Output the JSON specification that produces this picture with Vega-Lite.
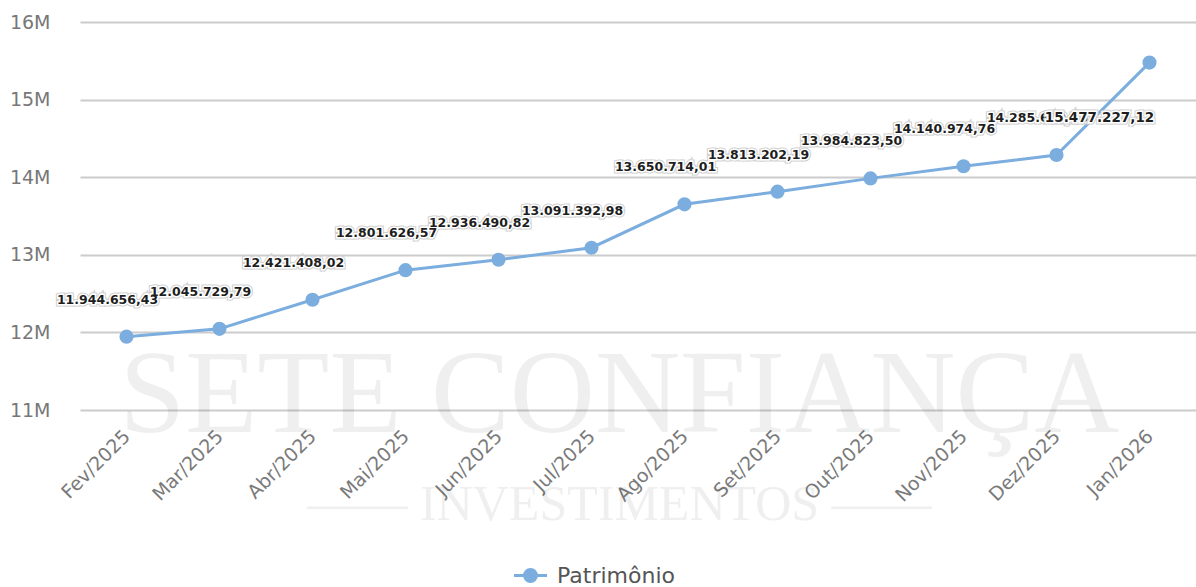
{
  "$schema": "https://vega.github.io/schema/vega-lite/v6.json",
  "width": 1116,
  "height": 388,
  "autosize": {"type": "none"},
  "padding": {"left": 80, "top": 22, "right": 0, "bottom": 177},
  "config": {
    "locale": {"number": {"decimal": ",", "thousands": ".", "grouping": [3], "currency": ["R$ ", ""]}},
    "view": {"stroke": null},
    "font": "DejaVu Sans"
  },
  "data": {
    "values": [
      {"mes": "Fev/2025", "patrimonio": 11944656.43},
      {"mes": "Mar/2025", "patrimonio": 12045729.79},
      {"mes": "Abr/2025", "patrimonio": 12421408.02},
      {"mes": "Mai/2025", "patrimonio": 12801626.57},
      {"mes": "Jun/2025", "patrimonio": 12936490.82},
      {"mes": "Jul/2025", "patrimonio": 13091392.98},
      {"mes": "Ago/2025", "patrimonio": 13650714.01},
      {"mes": "Set/2025", "patrimonio": 13813202.19},
      {"mes": "Out/2025", "patrimonio": 13984823.50},
      {"mes": "Nov/2025", "patrimonio": 14140974.76},
      {"mes": "Dez/2025", "patrimonio": 14285640.35},
      {"mes": "Jan/2026", "patrimonio": 15477227.12}
    ]
  },
  "layer": [
    {
      "data": {"values": [{"t": "SETE CONFIANÇA"}]},
      "mark": {"type": "text", "font": "Liberation Serif", "fontSize": 118, "color": "#000000", "opacity": 0.06, "baseline": "middle", "align": "center", "dx": 28},
      "encoding": {
        "x": {
          "datum": "Jul/2025", "type": "ordinal",
          "scale": {"type": "point", "padding": 0.5, "domain": ["Fev/2025", "Mar/2025", "Abr/2025", "Mai/2025", "Jun/2025", "Jul/2025", "Ago/2025", "Set/2025", "Out/2025", "Nov/2025", "Dez/2025", "Jan/2026"]},
          "axis": {"title": null, "domain": false, "ticks": false, "grid": false, "labelAngle": -45, "labelAlign": "right", "labelBaseline": "middle", "labelFontSize": 19, "labelColor": "#7a7a7a", "labelPadding": 23}
        },
        "y": {
          "datum": 11170000, "type": "quantitative",
          "scale": {"domain": [11000000, 16000000], "nice": false, "zero": false},
          "axis": {"title": null, "domain": false, "ticks": false, "grid": true, "values": [11000000, 12000000, 13000000, 14000000, 15000000, 16000000], "format": "~s", "labelFontSize": 19, "labelColor": "#777777", "labelPadding": 30, "gridColor": "#cccccc", "gridWidth": 2}
        },
        "text": {"field": "t"}
      }
    },
    {
      "data": {"values": [{"t": "——   INVESTIMENTOS   ——"}]},
      "mark": {"type": "text", "font": "Liberation Serif", "fontSize": 50, "color": "#000000", "opacity": 0.06, "baseline": "middle", "align": "center", "dx": 28},
      "encoding": {
        "x": {"datum": "Jul/2025", "type": "ordinal"},
        "y": {"datum": 9770000, "type": "quantitative"},
        "text": {"field": "t"}
      }
    },
    {
      "mark": {"type": "line", "strokeWidth": 3},
      "encoding": {
        "x": {"field": "mes", "type": "ordinal", "sort": null},
        "y": {"field": "patrimonio", "type": "quantitative"},
        "color": {
          "datum": "Patrimônio",
          "scale": {"range": ["#7badde"]},
          "legend": {"title": null, "orient": "none", "legendX": 434, "legendY": 537, "symbolType": "M-1.1,0H-0.4M0.4,0H1.1M-0.4,0A0.4,0.4 0 1 1 0.4,0A0.4,0.4 0 1 1 -0.4,0Z", "symbolSize": 900, "symbolStrokeWidth": 3, "symbolFillColor": "#7badde", "symbolStrokeColor": "#7badde", "labelFontSize": 22, "labelColor": "#555555", "labelOffset": 10}
        }
      }
    },
    {
      "mark": {"type": "circle", "size": 200, "opacity": 1},
      "encoding": {
        "x": {"field": "mes", "type": "ordinal", "sort": null},
        "y": {"field": "patrimonio", "type": "quantitative"},
        "color": {"datum": "Patrimônio"}
      }
    },
    {
      "transform": [{"filter": "datum.mes != 'Jan/2026'"}],
      "mark": {"type": "text", "fontSize": 12.5, "fontWeight": "bold", "color": "#ffffff", "stroke": "#cfcfcf", "strokeWidth": 5, "dx": -19, "dy": -37, "baseline": "middle"},
      "encoding": {
        "x": {"field": "mes", "type": "ordinal", "sort": null},
        "y": {"field": "patrimonio", "type": "quantitative"},
        "text": {"field": "patrimonio", "type": "quantitative", "format": ",.2f"}
      }
    },
    {
      "transform": [{"filter": "datum.mes != 'Jan/2026'"}],
      "mark": {"type": "text", "fontSize": 12.5, "fontWeight": "bold", "color": "#ffffff", "stroke": "#ffffff", "strokeWidth": 3, "dx": -19, "dy": -37, "baseline": "middle"},
      "encoding": {
        "x": {"field": "mes", "type": "ordinal", "sort": null},
        "y": {"field": "patrimonio", "type": "quantitative"},
        "text": {"field": "patrimonio", "type": "quantitative", "format": ",.2f"}
      }
    },
    {
      "transform": [{"filter": "datum.mes != 'Jan/2026'"}],
      "mark": {"type": "text", "fontSize": 12.5, "fontWeight": "bold", "color": "#1e1e1e", "dx": -19, "dy": -37, "baseline": "middle"},
      "encoding": {
        "x": {"field": "mes", "type": "ordinal", "sort": null},
        "y": {"field": "patrimonio", "type": "quantitative"},
        "text": {"field": "patrimonio", "type": "quantitative", "format": ",.2f"}
      }
    },
    {
      "transform": [{"filter": "datum.mes == 'Jan/2026'"}],
      "mark": {"type": "text", "fontSize": 13.5, "fontWeight": "bold", "color": "#ffffff", "stroke": "#cfcfcf", "strokeWidth": 5, "dx": -50, "dy": 55, "baseline": "middle"},
      "encoding": {
        "x": {"field": "mes", "type": "ordinal", "sort": null},
        "y": {"field": "patrimonio", "type": "quantitative"},
        "text": {"field": "patrimonio", "type": "quantitative", "format": ",.2f"}
      }
    },
    {
      "transform": [{"filter": "datum.mes == 'Jan/2026'"}],
      "mark": {"type": "text", "fontSize": 13.5, "fontWeight": "bold", "color": "#ffffff", "stroke": "#ffffff", "strokeWidth": 3, "dx": -50, "dy": 55, "baseline": "middle"},
      "encoding": {
        "x": {"field": "mes", "type": "ordinal", "sort": null},
        "y": {"field": "patrimonio", "type": "quantitative"},
        "text": {"field": "patrimonio", "type": "quantitative", "format": ",.2f"}
      }
    },
    {
      "transform": [{"filter": "datum.mes == 'Jan/2026'"}],
      "mark": {"type": "text", "fontSize": 13.5, "fontWeight": "bold", "color": "#1e1e1e", "dx": -50, "dy": 55, "baseline": "middle"},
      "encoding": {
        "x": {"field": "mes", "type": "ordinal", "sort": null},
        "y": {"field": "patrimonio", "type": "quantitative"},
        "text": {"field": "patrimonio", "type": "quantitative", "format": ",.2f"}
      }
    }
  ]
}
